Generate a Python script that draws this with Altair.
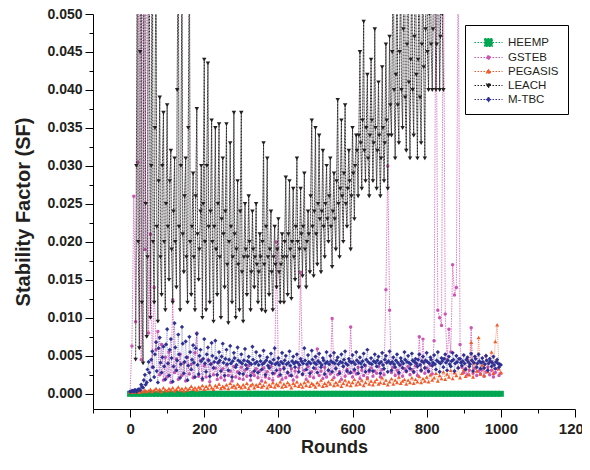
import altair as alt
import pandas as pd

# ---------------- data ----------------
rounds5 = list(range(0, 1001, 5))          # GSTEB, PEGASIS, M-TBC sampled every 5 rounds
mtbc_rounds2 = list(range(2, 1000, 5))     # extra M-TBC samples between them
leach_rounds = list(range(15, 846, 5))     # LEACH present from round ~15 to ~845
leach_rounds2 = list(range(17, 843, 5))    # extra LEACH samples between them
heemp_rounds = list(range(0, 1001, 10))    # HEEMP every 10 rounds

heemp = [
    0.0, 0.0, 0.0, 0.0, 0.0, 0.0, 0.0, 0.0, 0.0, 0.0,
    0.0, 0.0, 0.0, 0.0, 0.0, 0.0, 0.0, 0.0, 0.0, 0.0,
    0.0, 0.0, 0.0, 0.0, 0.0, 0.0, 0.0, 0.0, 0.0, 0.0,
    0.0, 0.0, 0.0, 0.0, 0.0, 0.0, 0.0, 0.0, 0.0, 0.0,
    0.0, 0.0, 0.0, 0.0, 0.0, 0.0, 0.0, 0.0, 0.0, 0.0,
    0.0, 0.0, 0.0, 0.0, 0.0, 0.0, 0.0, 0.0, 0.0, 0.0,
    0.0, 0.0, 0.0, 0.0, 0.0, 0.0, 0.0, 0.0, 0.0, 0.0,
    0.0, 0.0, 0.0, 0.0, 0.0, 0.0, 0.0, 0.0, 0.0, 0.0,
    0.0, 0.0, 0.0, 0.0, 0.0, 0.0, 0.0, 0.0, 0.0, 0.0,
    0.0, 0.0, 0.0, 0.0, 0.0, 0.0, 0.0, 0.0, 0.0, 0.0,
    0.0,
]

gsteb = [
    0.0003, 0.0063, 0.0260, 0.0095, 0.0305, 0.0650, 0.0045, 0.0700, 0.0190, 0.0600,
    0.0080, 0.0210, 0.0035, 0.0140, 0.0058, 0.0082, 0.0025, 0.0065, 0.0018, 0.0048,
    0.0022, 0.0055, 0.0015, 0.0124, 0.0028, 0.0046, 0.0019, 0.0052, 0.0024, 0.0041,
    0.0017, 0.0048, 0.0026, 0.0039, 0.0021, 0.0054, 0.0080, 0.0023, 0.0044, 0.0018,
    0.0037, 0.0022, 0.0045, 0.0016, 0.0040, 0.0025, 0.0034, 0.0019, 0.0042, 0.0021,
    0.0033, 0.0018, 0.0038, 0.0024, 0.0030, 0.0017, 0.0036, 0.0022, 0.0029, 0.0020,
    0.0035, 0.0019, 0.0031, 0.0023, 0.0037, 0.0018, 0.0028, 0.0024, 0.0033, 0.0021,
    0.0030, 0.0017, 0.0034, 0.0022, 0.0029, 0.0020, 0.0036, 0.0018, 0.0027, 0.0200,
    0.0023, 0.0032, 0.0019, 0.0035, 0.0021, 0.0028, 0.0024, 0.0033, 0.0018, 0.0030,
    0.0022, 0.0034, 0.0160, 0.0025, 0.0031, 0.0019, 0.0036, 0.0023, 0.0029, 0.0021,
    0.0033, 0.0059, 0.0024, 0.0030, 0.0020, 0.0035, 0.0022, 0.0031, 0.0026, 0.0099,
    0.0021, 0.0034, 0.0025, 0.0029, 0.0019, 0.0036, 0.0023, 0.0032, 0.0027, 0.0088,
    0.0022, 0.0030, 0.0026, 0.0035, 0.0020, 0.0031, 0.0024, 0.0037, 0.0021, 0.0029,
    0.0034, 0.0023, 0.0030, 0.0027, 0.0036, 0.0022, 0.0032, 0.0025, 0.0137, 0.0300,
    0.0110, 0.0028, 0.0035, 0.0024, 0.0031, 0.0026, 0.0038, 0.0023, 0.0033, 0.0029,
    0.0036, 0.0025, 0.0032, 0.0028, 0.0037, 0.0024, 0.0075, 0.0030, 0.0072, 0.0027,
    0.0034, 0.0029, 0.0038, 0.0026, 0.0070, 0.0600, 0.0110, 0.0100, 0.0090, 0.0600,
    0.0105, 0.0045, 0.0085, 0.0055, 0.0170, 0.0130, 0.0140, 0.0600, 0.0065, 0.0035,
    0.0028, 0.0033, 0.0025, 0.0031, 0.0087, 0.0027, 0.0034, 0.0024, 0.0030, 0.0026,
    0.0032, 0.0023, 0.0029, 0.0035, 0.0025, 0.0031, 0.0022, 0.0028, 0.0033, 0.0024,
    0.0027,
]

pegasis = [
    0.0002, 0.0003, 0.0002, 0.0004, 0.0003, 0.0002, 0.0004, 0.0003, 0.0005, 0.0003,
    0.0004, 0.0006, 0.0003, 0.0005, 0.0007, 0.0004, 0.0006, 0.0003, 0.0008, 0.0005,
    0.0004, 0.0007, 0.0005, 0.0008, 0.0004, 0.0006, 0.0009, 0.0005, 0.0007, 0.0004,
    0.0008, 0.0005, 0.0007, 0.0010, 0.0006, 0.0008, 0.0005, 0.0009, 0.0007, 0.0011,
    0.0006, 0.0010, 0.0007, 0.0012, 0.0008, 0.0006, 0.0011, 0.0009, 0.0013, 0.0007,
    0.0010, 0.0008, 0.0012, 0.0007, 0.0014, 0.0009, 0.0011, 0.0008, 0.0013, 0.0010,
    0.0008, 0.0012, 0.0009, 0.0014, 0.0007, 0.0011, 0.0013, 0.0008, 0.0012, 0.0010,
    0.0014, 0.0009, 0.0011, 0.0016, 0.0008, 0.0012, 0.0010, 0.0015, 0.0009, 0.0013,
    0.0011, 0.0016, 0.0009, 0.0013, 0.0010, 0.0015, 0.0012, 0.0008, 0.0014, 0.0011,
    0.0016, 0.0010, 0.0013, 0.0009, 0.0015, 0.0011, 0.0017, 0.0010, 0.0014, 0.0012,
    0.0009, 0.0015, 0.0012, 0.0018, 0.0010, 0.0014, 0.0011, 0.0016, 0.0013, 0.0019,
    0.0011, 0.0015, 0.0012, 0.0017, 0.0010, 0.0014, 0.0018, 0.0012, 0.0016, 0.0011,
    0.0015, 0.0019, 0.0012, 0.0016, 0.0013, 0.0018, 0.0011, 0.0015, 0.0020, 0.0013,
    0.0017, 0.0012, 0.0016, 0.0019, 0.0013, 0.0015, 0.0021, 0.0014, 0.0018, 0.0012,
    0.0016, 0.0020, 0.0013, 0.0018, 0.0015, 0.0022, 0.0014, 0.0017, 0.0019, 0.0013,
    0.0018, 0.0015, 0.0021, 0.0014, 0.0019, 0.0016, 0.0023, 0.0015, 0.0020, 0.0017,
    0.0022, 0.0016, 0.0025, 0.0018, 0.0021, 0.0027, 0.0017, 0.0024, 0.0020, 0.0029,
    0.0019, 0.0026, 0.0022, 0.0031, 0.0020, 0.0028, 0.0024, 0.0035, 0.0021, 0.0027,
    0.0032, 0.0023, 0.0046, 0.0025, 0.0068, 0.0022, 0.0041, 0.0030, 0.0074, 0.0026,
    0.0038, 0.0024, 0.0051, 0.0029, 0.0043, 0.0055, 0.0027, 0.0069, 0.0091, 0.0033,
    0.0028,
]

leach = [
    0.0045, 0.0680, 0.0060, 0.0720, 0.0040, 0.0550, 0.0075, 0.0640, 0.0100, 0.0700,
    0.0120, 0.0600, 0.0095, 0.0390, 0.0130, 0.0370, 0.0110, 0.0380, 0.0150, 0.0320,
    0.0120, 0.0310, 0.0140, 0.0650, 0.0110, 0.0580, 0.0160, 0.0310, 0.0120, 0.0600,
    0.0130, 0.0290, 0.0110, 0.0375, 0.0150, 0.0240, 0.0100, 0.0440, 0.0110, 0.0435,
    0.0120, 0.0360, 0.0095, 0.0350, 0.0130, 0.0355, 0.0100, 0.0310, 0.0140, 0.0355,
    0.0093, 0.0330, 0.0120, 0.0370, 0.0100, 0.0280, 0.0110, 0.0370, 0.0095, 0.0250,
    0.0130, 0.0260, 0.0110, 0.0240, 0.0140, 0.0250, 0.0120, 0.0210, 0.0110, 0.0330,
    0.0108, 0.0310, 0.0130, 0.0240, 0.0110, 0.0220, 0.0140, 0.0230, 0.0120, 0.0210,
    0.0120, 0.0285, 0.0130, 0.0280, 0.0125, 0.0270, 0.0150, 0.0310, 0.0140, 0.0270,
    0.0155, 0.0290, 0.0140, 0.0240, 0.0160, 0.0360, 0.0155, 0.0350, 0.0170, 0.0340,
    0.0160, 0.0320, 0.0180, 0.0300, 0.0200, 0.0310, 0.0167, 0.0290, 0.0190, 0.0387,
    0.0180, 0.0360, 0.0200, 0.0380, 0.0220, 0.0320, 0.0190, 0.0350, 0.0230, 0.0340,
    0.0260, 0.0450, 0.0270, 0.0490, 0.0280, 0.0420, 0.0260, 0.0440, 0.0280, 0.0480,
    0.0270, 0.0410, 0.0260, 0.0430, 0.0280, 0.0460, 0.0270, 0.0470, 0.0340, 0.0600,
    0.0310, 0.0580, 0.0330, 0.0550, 0.0350, 0.0700, 0.0320, 0.0650, 0.0310, 0.0570,
    0.0340, 0.0600, 0.0310, 0.0620, 0.0330, 0.0560, 0.0310, 0.0680, 0.0400, 0.0600,
    0.0400, 0.0650, 0.0400, 0.0580, 0.0400, 0.0620, 0.0400,
]

leach2 = [
    0.030, 0.020, 0.045, 0.012, 0.060, 0.025, 0.018, 0.055, 0.030, 0.020,
    0.035, 0.022, 0.028, 0.018, 0.030, 0.020, 0.025, 0.022, 0.028, 0.019,
    0.024, 0.020, 0.040, 0.022, 0.030, 0.021, 0.026, 0.018, 0.035, 0.020,
    0.022, 0.018, 0.026, 0.021, 0.019, 0.030, 0.025, 0.020, 0.030, 0.022,
    0.024, 0.020, 0.022, 0.019, 0.025, 0.018, 0.023, 0.021, 0.024, 0.017,
    0.020, 0.022, 0.018, 0.021, 0.019, 0.017, 0.024, 0.016, 0.018, 0.019,
    0.018, 0.020, 0.016, 0.019, 0.018, 0.017, 0.016, 0.018, 0.020, 0.017,
    0.022, 0.018, 0.019, 0.016, 0.018, 0.017, 0.019, 0.016, 0.017, 0.018,
    0.020, 0.018, 0.021, 0.019, 0.020, 0.018, 0.022, 0.020, 0.019, 0.021,
    0.022, 0.019, 0.020, 0.021, 0.026, 0.022, 0.024, 0.021, 0.025, 0.023,
    0.024, 0.022, 0.025, 0.023, 0.026, 0.022, 0.024, 0.023, 0.028, 0.025,
    0.027, 0.026, 0.029, 0.025, 0.027, 0.028, 0.026, 0.029, 0.030, 0.032,
    0.034, 0.033, 0.036, 0.032, 0.035, 0.031, 0.034, 0.036, 0.033, 0.035,
    0.032, 0.034, 0.031, 0.035, 0.033, 0.036, 0.034, 0.038, 0.045, 0.040,
    0.042, 0.038, 0.045, 0.040, 0.048, 0.039, 0.046, 0.041, 0.044, 0.040,
    0.047, 0.042, 0.044, 0.039, 0.046, 0.043, 0.048, 0.045, 0.050, 0.046,
    0.048, 0.052, 0.046, 0.055, 0.047, 0.050,
]

mtbc = [
    0.0003, 0.0004, 0.0003, 0.0005, 0.0004, 0.0006, 0.0012, 0.0008, 0.0025, 0.0015,
    0.0042, 0.0018, 0.0056, 0.0022, 0.0068, 0.0015, 0.0074, 0.0028, 0.0062, 0.0019,
    0.0085, 0.0024, 0.0072, 0.0016, 0.0093, 0.0031, 0.0078, 0.0021, 0.0088, 0.0027,
    0.0069, 0.0018, 0.0075, 0.0032, 0.0064, 0.0022, 0.0079, 0.0026, 0.0058, 0.0020,
    0.0072, 0.0029, 0.0061, 0.0023, 0.0067, 0.0034, 0.0070, 0.0025, 0.0055, 0.0030,
    0.0066, 0.0024, 0.0058, 0.0031, 0.0063, 0.0022, 0.0054, 0.0035, 0.0061, 0.0027,
    0.0052, 0.0026, 0.0059, 0.0033, 0.0049, 0.0024, 0.0062, 0.0030, 0.0055, 0.0028,
    0.0050, 0.0032, 0.0057, 0.0025, 0.0048, 0.0034, 0.0053, 0.0027, 0.0060, 0.0031,
    0.0047, 0.0025, 0.0054, 0.0033, 0.0050, 0.0028, 0.0056, 0.0024, 0.0049, 0.0035,
    0.0052, 0.0029, 0.0046, 0.0026, 0.0060, 0.0032, 0.0051, 0.0027, 0.0057, 0.0034,
    0.0049, 0.0028, 0.0053, 0.0035, 0.0047, 0.0026, 0.0055, 0.0031, 0.0050, 0.0029,
    0.0054, 0.0033, 0.0048, 0.0027, 0.0052, 0.0036, 0.0056, 0.0030, 0.0046, 0.0028,
    0.0051, 0.0032, 0.0055, 0.0027, 0.0048, 0.0035, 0.0053, 0.0029, 0.0058, 0.0031,
    0.0047, 0.0030, 0.0052, 0.0036, 0.0049, 0.0027, 0.0054, 0.0033, 0.0050, 0.0029,
    0.0056, 0.0031, 0.0048, 0.0035, 0.0052, 0.0028, 0.0047, 0.0034, 0.0055, 0.0030,
    0.0050, 0.0033, 0.0053, 0.0029, 0.0046, 0.0036, 0.0052, 0.0031, 0.0049, 0.0034,
    0.0054, 0.0030, 0.0048, 0.0037, 0.0051, 0.0032, 0.0055, 0.0029, 0.0047, 0.0035,
    0.0052, 0.0031, 0.0049, 0.0036, 0.0054, 0.0030, 0.0050, 0.0034, 0.0046, 0.0037,
    0.0051, 0.0032, 0.0048, 0.0036, 0.0053, 0.0030, 0.0049, 0.0035, 0.0052, 0.0033,
    0.0047, 0.0034, 0.0050, 0.0031, 0.0046, 0.0036, 0.0049, 0.0033, 0.0045, 0.0035,
    0.0038,
]

mtbc2 = [
    0.0003, 0.0004, 0.0005, 0.0003, 0.0006, 0.0005, 0.0009, 0.0018, 0.0012, 0.0032,
    0.0028, 0.0045, 0.0035, 0.0052, 0.0030, 0.0060, 0.0041, 0.0048, 0.0036, 0.0065,
    0.0040, 0.0058, 0.0047, 0.0036, 0.0061, 0.0044, 0.0052, 0.0039, 0.0066, 0.0042,
    0.0048, 0.0037, 0.0055, 0.0045, 0.0041, 0.0060, 0.0038, 0.0050, 0.0043, 0.0046,
    0.0040, 0.0052, 0.0044, 0.0039, 0.0050, 0.0042, 0.0047, 0.0041, 0.0044, 0.0049,
    0.0041, 0.0046, 0.0039, 0.0045, 0.0040, 0.0043, 0.0047, 0.0038, 0.0044, 0.0042,
    0.0040, 0.0044, 0.0038, 0.0043, 0.0041, 0.0039, 0.0045, 0.0040, 0.0042, 0.0038,
    0.0043, 0.0039, 0.0041, 0.0044, 0.0037, 0.0042, 0.0040, 0.0045, 0.0039, 0.0041,
    0.0038, 0.0042, 0.0040, 0.0044, 0.0039, 0.0041, 0.0037, 0.0043, 0.0040, 0.0042,
    0.0041, 0.0038, 0.0043, 0.0040, 0.0044, 0.0039, 0.0042, 0.0040, 0.0045, 0.0041,
    0.0039, 0.0043, 0.0041, 0.0038, 0.0044, 0.0040, 0.0042, 0.0039, 0.0043, 0.0041,
    0.0040, 0.0044, 0.0039, 0.0042, 0.0041, 0.0045, 0.0040, 0.0038, 0.0043, 0.0041,
    0.0042, 0.0039, 0.0044, 0.0041, 0.0040, 0.0043, 0.0038, 0.0045, 0.0042, 0.0040,
    0.0039, 0.0043, 0.0041, 0.0044, 0.0040, 0.0042, 0.0038, 0.0045, 0.0041, 0.0043,
    0.0040, 0.0042, 0.0039, 0.0044, 0.0041, 0.0038, 0.0043, 0.0040, 0.0045, 0.0042,
    0.0041, 0.0039, 0.0044, 0.0042, 0.0040, 0.0045, 0.0038, 0.0043, 0.0041, 0.0044,
    0.0042, 0.0040, 0.0045, 0.0041, 0.0039, 0.0044, 0.0042, 0.0040, 0.0043, 0.0046,
    0.0041, 0.0044, 0.0039, 0.0043, 0.0045, 0.0040, 0.0042, 0.0046, 0.0041, 0.0043,
    0.0040, 0.0045, 0.0042, 0.0039, 0.0044, 0.0041, 0.0046, 0.0040, 0.0043, 0.0041,
    0.0042, 0.0039, 0.0044, 0.0040, 0.0043, 0.0041, 0.0038, 0.0042, 0.0040, 0.0039,
]

series = ["HEEMP", "GSTEB", "PEGASIS", "LEACH", "M-TBC"]
colors = ["#00a651", "#cc55b4", "#f15a29", "#231f20", "#2e3192"]
x_ticks = list(range(-100, 1201, 100))
y_ticks = [0.0, 0.0025, 0.005, 0.0075, 0.01, 0.0125, 0.015, 0.0175, 0.02, 0.0225,
           0.025, 0.0275, 0.03, 0.0325, 0.035, 0.0375, 0.04, 0.0425, 0.045, 0.0475, 0.05]

# ---------------- chart ----------------
FONT = "Liberation Sans"
x_major = "datum.value % 200 == 0"
y_major = "abs(datum.value * 200 - round(datum.value * 200)) < 0.001"

x_axis = alt.Axis(
    values=x_ticks, title="Rounds", format="d",
    labelExpr=f"{x_major} ? datum.label : ''",
    tickSize={"condition": {"test": x_major, "value": 8}, "value": 4},
    grid=False, domainColor="black", tickColor="black", labelColor="#231f20",
    labelFont=FONT, labelFontSize=15, labelFontWeight="bold", labelPadding=4,
    titleFont=FONT, titleFontSize=18, titleFontWeight="bold", titleColor="#231f20",
    titlePadding=2, labelFlush=False,
)
y_axis = alt.Axis(
    values=y_ticks, title="Stability Factor (SF)",
    labelExpr=f"{y_major} ? format(datum.value, '.3f') : ''",
    tickSize={"condition": {"test": y_major, "value": 8}, "value": 4},
    grid=False, domainColor="black", tickColor="black", labelColor="#231f20",
    labelFont=FONT, labelFontSize=14, labelFontWeight="bold", labelPadding=3,
    titleFont=FONT, titleFontSize=20, titleFontWeight="bold", titleColor="#231f20",
    titlePadding=13, labelFlush=False,
)
x_scale = alt.Scale(domain=[-100, 1200], nice=False, zero=False)
y_scale = alt.Scale(domain=[-0.002, 0.05], nice=False, zero=False)


def layer(df, color, shape, size, line_opacity, line_width=0.6, dash=(1, 1)):
    base = alt.Chart(df).encode(
        x=alt.X("round:Q", scale=x_scale, axis=x_axis),
        y=alt.Y("sf:Q", scale=y_scale, axis=y_axis),
        order=alt.Order("round:Q"),
    )
    line = base.mark_line(color=color, strokeWidth=line_width, strokeDash=list(dash),
                          opacity=line_opacity, clip=True)
    pts = base.mark_point(color=color, shape=shape, size=size, filled=True,
                          opacity=1, clip=True)
    return line + pts


def frame(rounds, vals, rounds_b=None, vals_b=None):
    df = pd.DataFrame({"round": rounds, "sf": vals})
    if rounds_b is not None:
        df = pd.concat([df, pd.DataFrame({"round": rounds_b, "sf": vals_b})])
    return df.sort_values("round").reset_index(drop=True)


layers = [
    layer(frame(heemp_rounds, heemp), colors[0], "square", 36, 0.8),
    layer(frame(rounds5, gsteb), colors[1], "circle", 12, 0.75, 1.0, (1.5, 1)),
    layer(frame(rounds5, pegasis), colors[2], "triangle-up", 16, 0.8, 0.8),
    layer(frame(leach_rounds, leach, leach_rounds2, leach2), colors[3], "triangle-down",
          20, 1.0, 1.0, (1, 0.5)),
    layer(frame(rounds5, mtbc, mtbc_rounds2, mtbc2), colors[4], "diamond", 18, 0.6, 0.7),
]

paths = [
    "M-1,0L2.5,0M0.25,-0.5L1.25,-0.5L1.25,0.5L0.25,0.5Z",
    "M-1,0L2.5,0M0.5,0A0.25,0.25 0 1,0 1,0A0.25,0.25 0 1,0 0.5,0Z",
    "M-1,0L2.5,0M0.75,-0.3L1.05,0.22L0.45,0.22Z",
    "M-1,0L2.5,0M0.75,0.3L1.05,-0.22L0.45,-0.22Z",
    "M-1,0L2.5,0M0.75,-0.3L1.05,0L0.75,0.3L0.45,0Z",
]
leg = alt.Legend(
    title=None, orient="none", legendX=372, legendY=11,
    symbolSize=256, symbolStrokeWidth=1, symbolDash=[1.5, 1.5],
    labelFont=FONT, labelFontSize=11.5, labelColor="#231f20", labelOffset=17,
    strokeColor="black", fillColor="white", padding=9, rowPadding=-1,
)
legend_df = pd.DataFrame({"series": series})
legend_layer = alt.Chart(legend_df).transform_filter("false").mark_point(
    filled=True, opacity=1
).encode(
    fill=alt.Fill("series:N", scale=alt.Scale(domain=series, range=colors), legend=leg),
    stroke=alt.Stroke("series:N", scale=alt.Scale(domain=series, range=colors), legend=leg),
    shape=alt.Shape("series:N", scale=alt.Scale(domain=series, range=paths), legend=leg),
)

chart = alt.layer(*layers, legend_layer).properties(
    width=482, height=395,
    autosize=alt.AutoSizeParams(type="none"),
    padding={"left": 85, "top": 6, "right": 7, "bottom": 53},
).configure_view(stroke=None).configure_axis(domainWidth=1, tickWidth=1)

chart.save("out.html", embed_options={"renderer": "svg", "actions": False})
